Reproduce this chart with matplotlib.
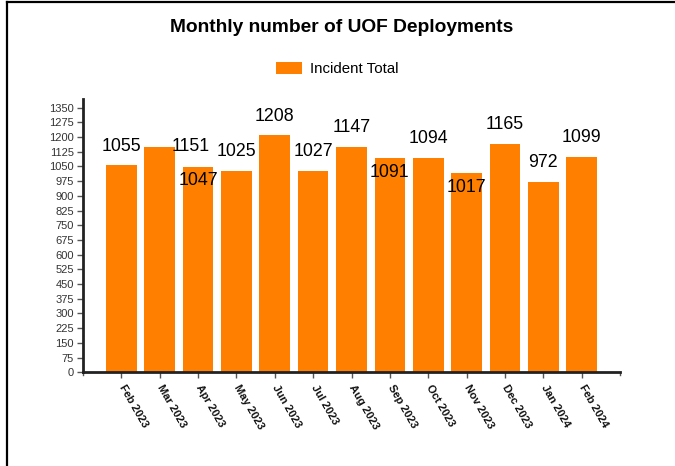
import matplotlib
matplotlib.use('Agg')
import matplotlib.pyplot as plt
from matplotlib.lines import Line2D

plt.rcParams['font.family'] = ['Liberation Sans', 'DejaVu Sans']

# data
months = ['Feb 2023', 'Mar 2023', 'Apr 2023', 'May 2023', 'Jun 2023', 'Jul 2023',
          'Aug 2023', 'Sep 2023', 'Oct 2023', 'Nov 2023', 'Dec 2023', 'Jan 2024', 'Feb 2024']
incidents = [1055, 1151, 1047, 1025, 1208, 1027, 1147, 1091, 1094, 1017, 1165, 972, 1099]
y_ticks = list(range(0, 1351, 75))

# label offsets in points (the original shoves colliding labels around)
label_dx = [0, 22, 0, 0, 0, 0, 0, 0, 0, 0, 0, 0, 0]
label_dy = [14, 0, -10, 14, 14, 14, 14, -10.5, 14, -10.5, 14, 14, 14]

orange = '#ff8000'

fig = plt.figure(figsize=(6.75, 4.66), dpi=100)
ax = fig.add_axes([83 / 675, 1 - 372.3 / 466, (620 - 83) / 675, (372.3 - 99) / 466])

x = list(range(len(months)))
bars = ax.bar(x, incidents, width=0.8, color=orange, label='Incident Total', zorder=2)

for i, v in enumerate(incidents):
    ax.annotate(str(v), (x[i], v), xytext=(label_dx[i], label_dy[i]),
                textcoords='offset points', ha='center', va='center',
                fontsize=12.8, color='black', zorder=3)

ax.set_xlim(-1, len(months))
ax.set_ylim(0, 1394)
ax.set_yticks(y_ticks)
ax.set_yticklabels([str(t) for t in y_ticks], fontsize=8, color='#333333')
ax.set_xticks(x)
ax.set_xticklabels(months, rotation=-60, ha='left', va='center', rotation_mode='anchor',
                   fontsize=8, fontweight='bold', color='#111111')

for side in ['top', 'right']:
    ax.spines[side].set_visible(False)
for side in ['left', 'bottom']:
    ax.spines[side].set_linewidth(2)
    ax.spines[side].set_color('#222222')
ax.tick_params(axis='y', length=4.5, width=1, color='#555555', pad=2)
ax.tick_params(axis='x', length=4.5, width=1, color='#555555', pad=5)

# end ticks of the x axis domain
for xe in [-1, len(months)]:
    ax.plot([xe, xe], [0, -14], color='#555555', lw=1, clip_on=False, zorder=1)

fig.text(342 / 675, 1 - 27 / 466, 'Monthly number of UOF Deployments',
         ha='center', va='center', fontsize=13.8, fontweight='bold')

fig.legend(handles=[bars], labels=['Incident Total'], loc='center',
           bbox_to_anchor=(337 / 675, 1 - 69 / 466), frameon=False,
           fontsize=10.8, handlelength=1.75, handleheight=0.9, handletextpad=0.55)

# partial frame (left and top edges)
fig.add_artist(Line2D([6.5 / 675, 6.5 / 675], [0, 1 - 1.5 / 466], color='black', lw=1.6))
fig.add_artist(Line2D([6.5 / 675, 1], [1 - 1.5 / 466, 1 - 1.5 / 466], color='black', lw=1.6))

fig.savefig('out.png', dpi=100)
